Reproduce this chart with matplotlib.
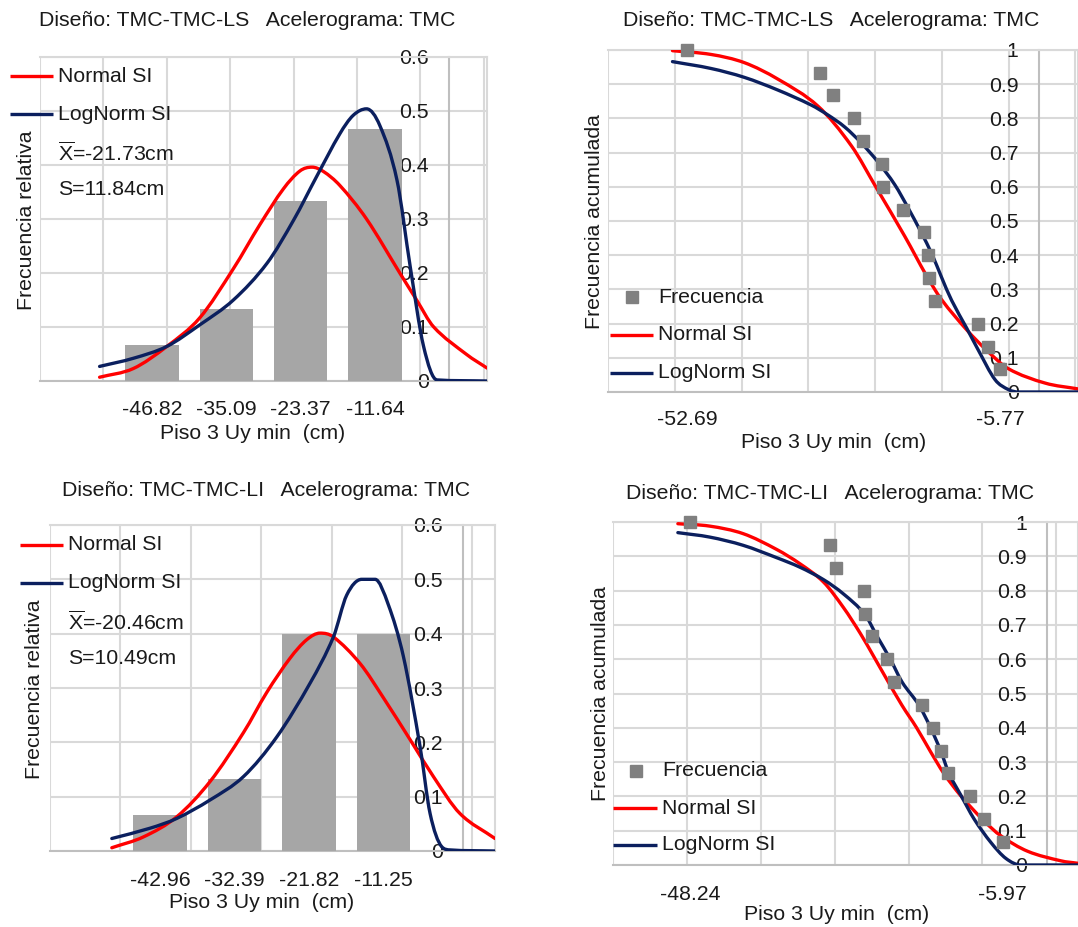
import numpy as np
import matplotlib
matplotlib.use('Agg')
import matplotlib.pyplot as plt
from matplotlib.lines import Line2D
from matplotlib.path import Path
from matplotlib.patches import PathPatch
from matplotlib.ticker import FixedLocator, FormatStrFormatter

# -------------------------- estilo general --------------------------
plt.rcParams['font.family'] = ['Liberation Sans', 'DejaVu Sans']
plt.rcParams['mathtext.fontset'] = 'custom'
plt.rcParams['mathtext.rm'] = 'Liberation Sans'
plt.rcParams['font.size'] = 15.3
plt.rcParams['text.color'] = '#1a1a1a'
plt.rcParams['xtick.color'] = '#1a1a1a'
plt.rcParams['ytick.color'] = '#1a1a1a'

RED = '#ff0000'
NAVY = '#0b1f5e'
BAR = '#a6a6a6'
MARK = '#808080'
GRID = '#d9d9d9'
AXIS = '#bfbfbf'

# -------------------------- datos: TMC-TMC-LS --------------------------
ls_mean, ls_std = -21.73, 11.84
ls_bin_centers = [-46.82, -35.09, -23.37, -11.64]
ls_rel_freq = [0.067, 0.133, 0.333, 0.467]
ls_norm_x = [-55.1, -49.8, -44.5, -39.3, -34.0, -29.8, -26.1, -23.5, -21.6, -19.8,
             -17.2, -13.0, -7.7, -5.1, -2.4, 2.8, 6.0]
ls_norm_pdf = [0.007, 0.023, 0.064, 0.117, 0.208, 0.290, 0.356, 0.389, 0.396, 0.388,
               0.362, 0.300, 0.199, 0.150, 0.100, 0.049, 0.024]
ls_logn_x = [-55.1, -49.8, -44.5, -39.3, -34.0, -28.7, -24.5, -20.9, -17.2, -15.1,
             -13.0, -10.9, -8.2, -6.1, -4.0, -1.9, 6.0]
ls_logn_pdf = [0.027, 0.042, 0.064, 0.104, 0.150, 0.218, 0.298, 0.378, 0.458, 0.492,
               0.504, 0.473, 0.372, 0.211, 0.064, 0.002, 0.0]

ls_sample = [-52.69, -32.76, -30.86, -27.65, -26.25, -23.45, -23.30, -20.29,
             -17.14, -16.64, -16.39, -15.54, -9.02, -7.52, -5.77]
ls_cum_freq = [1.0, 0.933, 0.867, 0.8, 0.733, 0.667, 0.6, 0.533,
               0.467, 0.4, 0.333, 0.267, 0.2, 0.133, 0.067]
ls_ncdf_x = [-54.84, -49.08, -44.08, -39.07, -33.06, -28.05, -24.30, -20.04,
             -16.79, -14.53, -10.78, -7.78, -4.52, 0.99, 5.9]
ls_ncdf = [0.998, 0.987, 0.963, 0.915, 0.836, 0.720, 0.597, 0.455,
           0.340, 0.270, 0.182, 0.122, 0.068, 0.026, 0.009]
ls_lcdf_x = [-54.84, -49.08, -44.08, -39.07, -34.06, -31.56, -29.05, -26.55, -24.04,
             -21.54, -19.54, -17.6, -15.93, -14.53, -13.03, -10.78, -9.02, -6.52,
             -4.52, -3.02, 5.9]
ls_lcdf = [0.966, 0.946, 0.920, 0.883, 0.839, 0.810, 0.775, 0.728, 0.672,
           0.606, 0.538, 0.467, 0.401, 0.335, 0.268, 0.187, 0.122, 0.036,
           0.007, 0.0, 0.0]

# -------------------------- datos: TMC-TMC-LI --------------------------
li_mean, li_std = -20.46, 10.49
li_bin_centers = [-42.96, -32.39, -21.82, -11.25]
li_rel_freq = [0.067, 0.133, 0.4, 0.4]
li_norm_x = [-49.82, -45.32, -40.59, -35.86, -31.12, -27.81, -24.5, -22.13, -20.24,
             -18.35, -14.56, -11.25, -7.46, -4.15, -0.38, 4.6]
li_norm_pdf = [0.006, 0.026, 0.063, 0.128, 0.218, 0.292, 0.355, 0.389, 0.401,
               0.394, 0.345, 0.282, 0.205, 0.137, 0.069, 0.023]
li_logn_x = [-49.82, -44.38, -40.59, -35.86, -31.12, -26.39, -21.66, -18.35, -16.46,
             -14.33, -12.43, -10.54, -8.41, -6.04, -4.62, -2.97, -1.78, 4.6]
li_logn_pdf = [0.023, 0.042, 0.060, 0.094, 0.137, 0.210, 0.309, 0.394, 0.471,
               0.500, 0.500, 0.453, 0.358, 0.192, 0.069, 0.008, 0.002, 0.0]

li_sample = [-48.24, -29.39, -28.48, -24.77, -24.63, -23.64, -21.60, -20.60,
             -16.93, -15.35, -14.26, -13.31, -10.36, -8.55, -5.97]
li_cum_freq = [1.0, 0.933, 0.867, 0.8, 0.733, 0.667, 0.6, 0.533,
               0.467, 0.4, 0.333, 0.267, 0.2, 0.133, 0.067]
li_ncdf_x = [-49.92, -45.61, -41.08, -36.55, -33.38, -30.21, -27.49, -25.22, -23.41,
             -21.82, -19.6, -17.6, -15.71, -13.89, -11.63, -8.55, -6.20, -2.57, 1.96, 4.23]
li_ncdf = [0.995, 0.988, 0.966, 0.920, 0.878, 0.825, 0.750, 0.675, 0.608,
           0.548, 0.466, 0.4, 0.330, 0.266, 0.202, 0.130, 0.085, 0.040, 0.012, 0.005]
li_lcdf_x = [-49.92, -45.61, -41.08, -36.55, -33.38, -30.21, -27.49, -24.63, -22.96,
             -21.14, -19.56, -17.29, -15.71, -14.35, -13.22, -11.63, -9.82, -7.56,
             -5.51, -3.48, 4.23]
li_lcdf = [0.969, 0.956, 0.932, 0.896, 0.868, 0.832, 0.790, 0.731, 0.667,
           0.599, 0.533, 0.466, 0.4, 0.333, 0.267, 0.204, 0.134, 0.066,
           0.019, 0.0, 0.0]

# -------------------------- figura (coordenadas en pixeles) --------------------------
W, H = 1078, 927
fig = plt.figure(figsize=(W / 100, H / 100), dpi=100)
fig.patch.set_facecolor('white')


def fx(x):
    return x / W


def fy(y):
    return 1 - y / H


def make_axes(left, top, right, bottom):
    return fig.add_axes([fx(left), fy(bottom), (right - left) / W, (bottom - top) / H])


def smooth_line(ax, x, y, color, z):
    # linea suavizada tipo Excel: curva Bezier que pasa por los puntos leidos
    x = np.asarray(x, float)
    y = np.asarray(y, float)
    h = np.diff(x)
    d = np.diff(y) / h
    m = np.zeros_like(y)
    m[0], m[-1] = d[0], d[-1]
    for k in range(1, len(x) - 1):
        if d[k - 1] * d[k] > 0:
            c = (y[k + 1] - y[k - 1]) / (x[k + 1] - x[k - 1])
            lim = 3 * min(abs(d[k - 1]), abs(d[k]))
            m[k] = np.sign(c) * min(abs(c), lim)
    verts = [(x[0], y[0])]
    codes = [Path.MOVETO]
    for k in range(len(h)):
        verts += [(x[k] + h[k] / 3, y[k] + m[k] * h[k] / 3),
                  (x[k + 1] - h[k] / 3, y[k + 1] - m[k + 1] * h[k] / 3),
                  (x[k + 1], y[k + 1])]
        codes += [Path.CURVE4] * 3
    ax.add_patch(PathPatch(Path(verts, codes), fill=False, edgecolor=color,
                           lw=2.4, zorder=z, capstyle='round', joinstyle='round'))


def style_axes(ax, xmin, xmax, ymax, ystep, xticks, xpad):
    ax.set_xlim(xmin, xmax)
    ax.set_ylim(0, ymax)
    ax.set_axisbelow(True)
    ax.set_xticks(xticks)
    ax.set_xticklabels(['%.2f' % v for v in xticks])
    ax.xaxis.set_minor_locator(FixedLocator(np.arange(xmin, xmax + 0.01, 10)))
    ax.grid(which='minor', axis='x', color=GRID, lw=1.5)
    ax.set_yticks(np.arange(0, ymax + 1e-9, ystep))
    ax.yaxis.set_major_formatter(FormatStrFormatter('%g'))
    ax.grid(which='major', axis='y', color=GRID, lw=1.5)
    ax.tick_params(which='both', length=0)
    ax.tick_params(axis='x', pad=xpad)
    ax.tick_params(axis='y', pad=14.4)
    ax.spines['left'].set_position(('data', 0))
    for side in ['left', 'top', 'right', 'bottom']:
        ax.spines[side].set_color(GRID)
        ax.spines[side].set_linewidth(1.5)
        ax.spines[side].set_zorder(0.6)
    ax.spines['left'].set_color(AXIS)
    ax.spines['bottom'].set_color(AXIS)


def legend_line(x0, x1, y, color, label):
    fig.add_artist(Line2D([fx(x0), fx(x1)], [fy(y), fy(y)], color=color, lw=2.4,
                          solid_capstyle='butt'))
    fig.text(fx(x1 + 5), fy(y), label, va='center', ha='left')


def legend_mark(x, y, label):
    fig.add_artist(Line2D([fx(x)], [fy(y)], marker='s', ms=8.5, color=MARK, ls='none'))
    fig.text(fx(x + 26), fy(y), label, va='center', ha='left')


def labels(title, tpos, ylab, ypos, xpos):
    fig.text(fx(tpos[0]), fy(tpos[1]), title, ha='center', va='center')
    fig.text(fx(ypos[0]), fy(ypos[1]), ylab, ha='center', va='center', rotation=90)
    fig.text(fx(xpos[0]), fy(xpos[1]), 'Piso 3 Uy min  (cm)', ha='center', va='center')


# -------------------------- 1. histograma LS --------------------------
ax1 = make_axes(40, 57, 487, 381)
w1 = np.diff(ls_bin_centers).mean() * 0.717
ax1.bar(ls_bin_centers, ls_rel_freq, width=w1, color=BAR, zorder=1)
smooth_line(ax1, ls_norm_x, ls_norm_pdf, RED, 3)
smooth_line(ax1, ls_logn_x, ls_logn_pdf, NAVY, 4)
style_axes(ax1, -64.5, 6.0, 0.6, 0.1, ls_bin_centers, 14)
labels('Diseño: TMC-TMC-LS   Acelerograma: TMC', (247, 20),
       'Frecuencia relativa', (27, 220), (253, 433))
legend_line(10, 53, 76, RED, 'Normal SI')
legend_line(10, 53, 114, NAVY, 'LogNorm SI')
fig.text(fx(58), fy(153), r'$\overline{\mathrm{X}}$=%.2fcm' % ls_mean, va='center')
fig.text(fx(58), fy(190), 'S=%.2fcm' % ls_std, va='center')

# -------------------------- 2. acumulada LS --------------------------
ax2 = make_axes(608, 50, 1078, 392)
smooth_line(ax2, ls_ncdf_x, ls_ncdf, RED, 3)
smooth_line(ax2, ls_lcdf_x, ls_lcdf, NAVY, 4)
ax2.plot(ls_sample, ls_cum_freq, 's', ms=8.5, color=MARK, zorder=5, clip_on=False)
style_axes(ax2, -64.5, 5.9, 1.0, 0.1, [min(ls_sample), max(ls_sample)], 13.2)
labels('Diseño: TMC-TMC-LS   Acelerograma: TMC', (831, 20),
       'Frecuencia acumulada', (595, 222), (834, 442))
legend_mark(632, 297, 'Frecuencia')
legend_line(610, 653, 335, RED, 'Normal SI')
legend_line(610, 653, 373, NAVY, 'LogNorm SI')

# -------------------------- 3. histograma LI --------------------------
ax3 = make_axes(50, 525, 495, 851)
w3 = np.diff(li_bin_centers).mean() * 0.717
ax3.bar(li_bin_centers, li_rel_freq, width=w3, color=BAR, zorder=1)
smooth_line(ax3, li_norm_x, li_norm_pdf, RED, 3)
smooth_line(ax3, li_logn_x, li_logn_pdf, NAVY, 4)
style_axes(ax3, -58.6, 4.6, 0.6, 0.1, li_bin_centers, 14.6)
labels('Diseño: TMC-TMC-LI   Acelerograma: TMC', (266, 491),
       'Frecuencia relativa', (35, 689), (262, 903))
legend_line(20, 63, 545, RED, 'Normal SI')
legend_line(20, 63, 583, NAVY, 'LogNorm SI')
fig.text(fx(68), fy(622), r'$\overline{\mathrm{X}}$=%.2fcm' % li_mean, va='center')
fig.text(fx(68), fy(659), 'S=%.2fcm' % li_std, va='center')

# -------------------------- 4. acumulada LI --------------------------
ax4 = make_axes(613, 522, 1078, 865)
smooth_line(ax4, li_ncdf_x, li_ncdf, RED, 3)
smooth_line(ax4, li_lcdf_x, li_lcdf, NAVY, 4)
ax4.plot(li_sample, li_cum_freq, 's', ms=8.5, color=MARK, zorder=5, clip_on=False)
style_axes(ax4, -58.7, 4.24, 1.0, 0.1, [min(li_sample), max(li_sample)], 14.6)
labels('Diseño: TMC-TMC-LI   Acelerograma: TMC', (830, 494),
       'Frecuencia acumulada', (600, 694), (837, 915))
legend_mark(636, 771, 'Frecuencia')
legend_line(613, 657, 808, RED, 'Normal SI')
legend_line(613, 657, 845, NAVY, 'LogNorm SI')

fig.savefig('out.png', dpi=100, facecolor='white')
